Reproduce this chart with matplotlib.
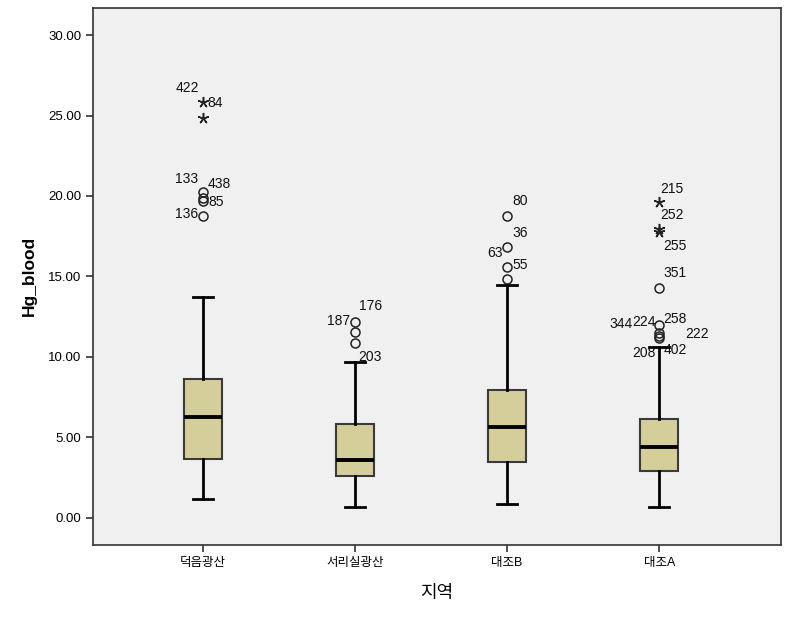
import matplotlib.pyplot as plt

# category labels and box statistics
regions = ['덕음광산', '서리실광산', '대조B', '대조A']
whis_lo = [1.18, 0.68, 0.87, 0.68]
q1 = [3.66, 2.61, 3.48, 2.92]
median = [6.27, 3.60, 5.65, 4.41]
q3 = [8.63, 5.84, 7.95, 6.15]
whis_hi = [13.73, 9.69, 14.47, 10.62]

# outliers per group: value and marker kind ('o' mild, '*' extreme)
outlier_vals = [
    [25.84, 24.84, 20.25, 19.88, 19.70, 18.76],
    [12.17, 11.55, 10.87],
    [18.76, 16.83, 15.59, 14.84],
    [19.63, 17.95, 17.76, 14.29, 11.99, 11.49, 11.30, 11.18],
]
outlier_kind = [
    ['*', '*', 'o', 'o', 'o', 'o'],
    ['o', 'o', 'o'],
    ['o', 'o', 'o', 'o'],
    ['*', '*', '*', 'o', 'o', 'o', 'o', 'o'],
]
# case ids: (group, outlier index, label)
case_ids = [
    (0, 0, '422'), (0, 0, '84'), (0, 2, '133'), (0, 3, '438'), (0, 4, '85'), (0, 5, '136'),
    (1, 0, '176'), (1, 0, '187'), (1, 2, '203'),
    (2, 0, '80'), (2, 1, '36'), (2, 1, '63'), (2, 2, '55'),
    (3, 0, '215'), (3, 1, '252'), (3, 2, '255'), (3, 3, '351'), (3, 4, '344'),
    (3, 4, '224'), (3, 4, '258'), (3, 5, '222'), (3, 7, '208'), (3, 7, '402'),
]
# label offsets in pixels, same order as case_ids
label_offsets = [
    (-16, 14), (12, -1), (-16, 13), (16, 14), (13, -1), (-16, 2),
    (15, 16), (-17, 1), (15, -14),
    (13, 15), (13, 14), (-12, -6), (13, 2),
    (13, 13), (13, 14), (16, -14), (16, 15), (-38, 1),
    (-15, 3), (16, 6), (38, -1), (-15, -15), (16, -12),
]

font = ['Liberation Sans', 'Noto Sans CJK KR', 'DejaVu Sans']
plt.rcParams['font.family'] = font

fig = plt.figure(figsize=(7.96, 6.41), dpi=100)
ax = fig.add_axes([0.1168, 0.150, 0.8642, 0.8375])
ax.set_facecolor('#f0f0f0')

positions = list(range(1, len(regions) + 1))
stats = []
for i in range(len(regions)):
    stats.append({
        'whislo': whis_lo[i], 'q1': q1[i], 'med': median[i],
        'q3': q3[i], 'whishi': whis_hi[i], 'fliers': [],
    })

ax.bxp(stats, positions=positions, widths=0.25, capwidths=0.13,
       patch_artist=True, showfliers=False,
       boxprops=dict(facecolor='#d4cf9a', edgecolor='#3a3a3a', linewidth=1.5),
       medianprops=dict(color='black', linewidth=2.8),
       whiskerprops=dict(color='black', linewidth=2.0),
       capprops=dict(color='black', linewidth=2.0))

for pos, vals, kinds in zip(positions, outlier_vals, outlier_kind):
    for v, k in zip(vals, kinds):
        if k == 'o':
            ax.plot(pos, v, 'o', markersize=6.5, markerfacecolor='none',
                    markeredgecolor='#222222', markeredgewidth=1.1, zorder=4)
        else:
            ax.plot(pos, v, marker=(5, 2, 0), markersize=8, color='#222222',
                    markeredgewidth=1.1, linestyle='none', zorder=4)

for (g, idx, lab), (dx, dy) in zip(case_ids, label_offsets):
    ax.annotate(lab, (positions[g], outlier_vals[g][idx]), xytext=(dx, dy),
                textcoords='offset pixels', ha='center', va='center',
                fontsize=10, color='#111111', zorder=5)

ax.set_xlim(0.276, 4.80)
ax.set_ylim(-1.68, 31.68)
ax.set_yticks([0, 5, 10, 15, 20, 25, 30])
ax.set_yticklabels([f'{t:.2f}' for t in [0, 5, 10, 15, 20, 25, 30]])
ax.set_xticks(positions)
ax.set_xticklabels(regions, fontsize=9)
ax.tick_params(axis='y', labelsize=9.5, length=5, width=1.2, color='#333333')
ax.tick_params(axis='x', length=5, width=1.2, color='#333333')
for s in ax.spines.values():
    s.set_color('#333333')
    s.set_linewidth(1.2)

ax.set_ylabel('Hg_blood', fontsize=12.5, fontweight='bold', labelpad=8)
ax.set_xlabel('지역', fontsize=13, labelpad=12)

fig.savefig('out.png', dpi=100, facecolor='white')
